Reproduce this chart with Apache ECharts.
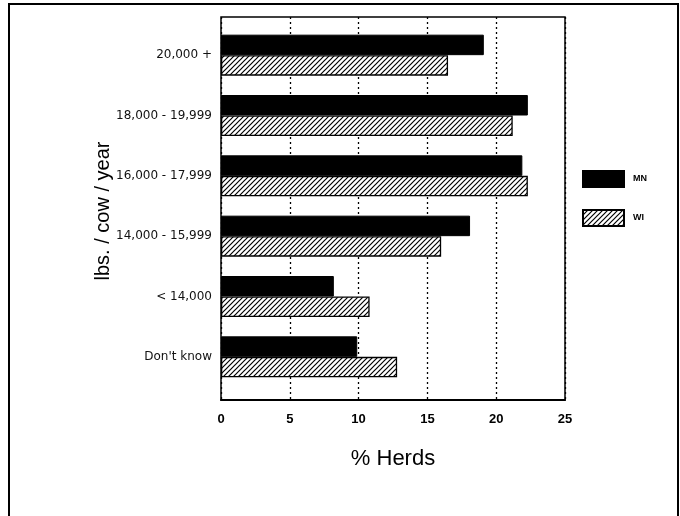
<!DOCTYPE html>
<html>
<head>
<meta charset="utf-8">
<script src="https://cdn.jsdelivr.net/npm/echarts@6/dist/echarts.min.js"></script>
<style>
  html, body { margin: 0; padding: 0; background: #fff; }
  #frame { position: absolute; left: 8px; top: 3px; width: 671px; height: 530px; border: 2px solid #000; box-sizing: border-box; }
  #chart { position: absolute; left: 0; top: 0; width: 680px; height: 516px; }
</style>
</head>
<body>
<div id="frame"></div>
<div id="chart"></div>
<script>
// Milk production per cow, share of herds in each bracket
const categories = ['20,000 +', '18,000 - 19,999', '16,000 - 17,999', '14,000 - 15,999', '< 14,000', "Don't know"];
const mnValues = [19.1, 22.3, 21.9, 18.1, 8.2, 9.9];
const wiValues = [16.5, 21.2, 22.3, 16.0, 10.8, 12.8];
const xTicks = [0, 5, 10, 15, 20, 25];

// Diagonal hatch tile for the WI bars
function hatchTile() {
  const s = 5;
  const c = document.createElement('canvas');
  c.width = s; c.height = s;
  const g = c.getContext('2d');
  g.fillStyle = '#fff';
  g.fillRect(0, 0, s, s);
  g.strokeStyle = '#000';
  g.lineWidth = 1.2;
  g.beginPath();
  g.moveTo(-1, s + 1); g.lineTo(s + 1, -1);
  g.moveTo(-1, 1); g.lineTo(1, -1);
  g.moveTo(s - 1, s + 1); g.lineTo(s + 1, s - 1);
  g.stroke();
  return c;
}

const chart = echarts.init(document.getElementById('chart'), null, { renderer: 'canvas' });

chart.setOption({
  animation: false,
  backgroundColor: 'transparent',
  grid: [
    { left: 221, top: 17, width: 344, height: 383, show: true, borderColor: '#000', borderWidth: 1.5, backgroundColor: 'transparent' },
    { left: 221, top: 25, width: 344, height: 362 }
  ],
  legend: {
    orient: 'vertical',
    left: 582, top: 170, padding: 0,
    itemWidth: 41, itemHeight: 16, itemGap: 21,
    icon: 'rect',
    textStyle: { fontFamily: 'Liberation Sans', fontWeight: 'bold', fontSize: 9, color: '#000', padding: [0, 0, 0, 4] },
    data: ['MN', 'WI']
  },
  xAxis: [
    {
      gridIndex: 0, type: 'value', min: xTicks[0], max: xTicks[xTicks.length - 1], interval: 5,
      axisLine: { show: true, lineStyle: { color: '#000', width: 2 } },
      axisTick: { show: false },
      axisLabel: { margin: 13, fontFamily: 'Liberation Sans', fontWeight: 'bold', fontSize: 13, color: '#000' },
      splitLine: { show: true, lineStyle: { color: '#000', width: 1.3, type: [2, 3] } },
      name: '% Herds', nameLocation: 'middle', nameGap: 48, nameMoveOverlap: false,
      nameTextStyle: { fontFamily: 'Liberation Sans', fontSize: 22, color: '#000' }
    },
    {
      gridIndex: 1, type: 'value', min: xTicks[0], max: xTicks[xTicks.length - 1], show: false
    }
  ],
  yAxis: [
    { gridIndex: 0, type: 'value', show: false, min: 0, max: 1 },
    {
      gridIndex: 1, type: 'category', data: categories, inverse: true,
      axisLine: { show: false }, axisTick: { show: false },
      axisLabel: { margin: 9, fontFamily: 'DejaVu Sans', fontSize: 12, color: '#111' },
      name: 'lbs. / cow / year', nameLocation: 'middle', nameGap: 108, nameMoveOverlap: false,
      nameTextStyle: { fontFamily: 'Liberation Sans', fontSize: 20, color: '#000', padding: [0, 0, 0, -10] }
    }
  ],
  series: [
    {
      name: 'MN', type: 'bar', xAxisIndex: 1, yAxisIndex: 1, data: mnValues,
      barWidth: 20.5, barGap: '0%',
      itemStyle: { color: '#000', borderColor: '#000', borderWidth: 1 }
    },
    {
      name: 'WI', type: 'bar', xAxisIndex: 1, yAxisIndex: 1, data: wiValues,
      barWidth: 20.5, barGap: '0%',
      itemStyle: { color: { image: hatchTile(), repeat: 'repeat' }, borderColor: '#000', borderWidth: 1.3 }
    }
  ]
});
</script>
</body>
</html>
